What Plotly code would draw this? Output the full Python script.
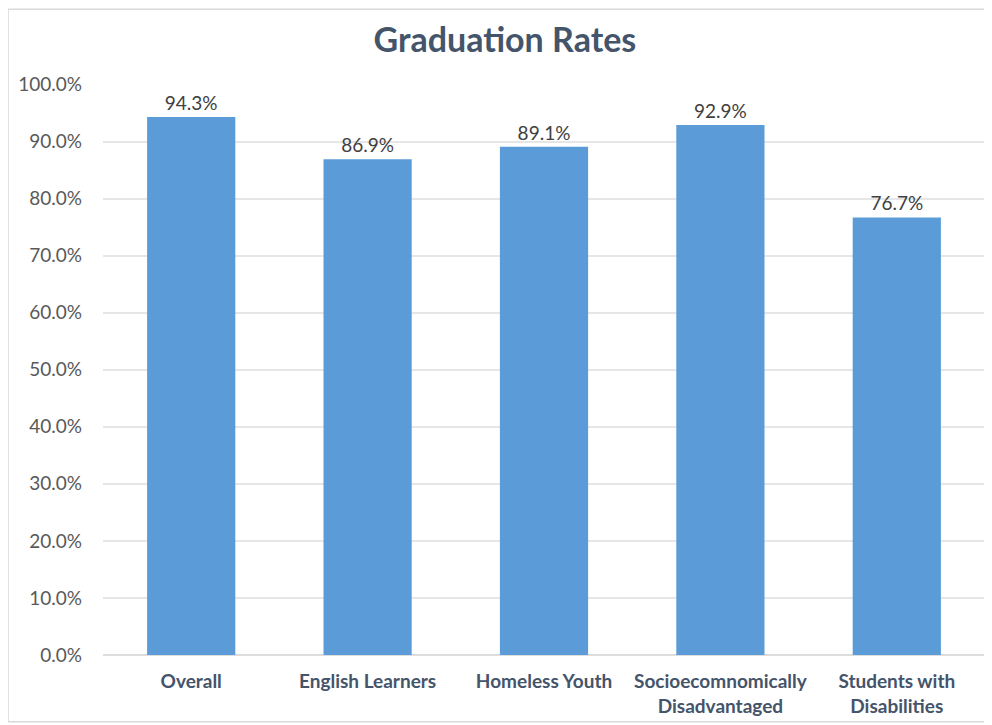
import plotly.graph_objects as go

categories = ["Overall", "English Learners", "Homeless Youth",
              "Socioecomnomically<br>Disadvantaged", "Students with<br>Disabilities"]
rates = [0.943, 0.869, 0.891, 0.929, 0.767]
tick_vals = [0.0, 0.1, 0.2, 0.3, 0.4, 0.5, 0.6, 0.7, 0.8, 0.9, 1.0]
tick_text = ["0.0%", "10.0%", "20.0%", "30.0%", "40.0%", "50.0%",
             "60.0%", "70.0%", "80.0%", "90.0%", "100.0%"]

FONT = "Lato, 'Open Sans', sans-serif"

fig = go.Figure()
fig.add_trace(go.Bar(
    x=categories, y=rates,
    marker=dict(color="#5A9BD8", line=dict(width=0)),
    text=[f"{v*100:.1f}%" for v in rates],
    textposition="outside",
    textfont=dict(family=FONT, size=19, color="#404040"),
    cliponaxis=False,
))

fig.update_layout(
    width=984, height=717,
    margin=dict(l=95, r=7, t=76, b=70),
    paper_bgcolor="white", plot_bgcolor="white",
    bargap=0.5,
    showlegend=False,
    title=dict(text="<b>Graduation Rates</b>", x=0.505, xref="container",
               xanchor="center", y=0.955, yref="container", yanchor="middle",
               font=dict(family=FONT, size=34, color="#44546A")),
    xaxis=dict(
        showgrid=False, showline=False, ticks="", ticklabelstandoff=13,
        tickfont=dict(family=FONT, size=19, color="#44546A", weight="bold"),
    ),
    yaxis=dict(
        range=[0, 1.0008], tickvals=tick_vals, ticktext=tick_text,
        showgrid=True, gridcolor="#E6E6E6", gridwidth=1.5,
        zeroline=True, zerolinecolor="#DDDDDD", zerolinewidth=1.5,
        showline=False, ticks="", ticklabelstandoff=20,
        tickfont=dict(family=FONT, size=19, color="#595959"),
    ),
    shapes=[dict(type="rect", xref="paper", yref="paper",
                 x0=-0.1077, x1=1.02, y0=-0.117, y1=1.131,
                 line=dict(color="#D9D9D9", width=1.5), layer="below")],
)

fig.write_html("out.html")
